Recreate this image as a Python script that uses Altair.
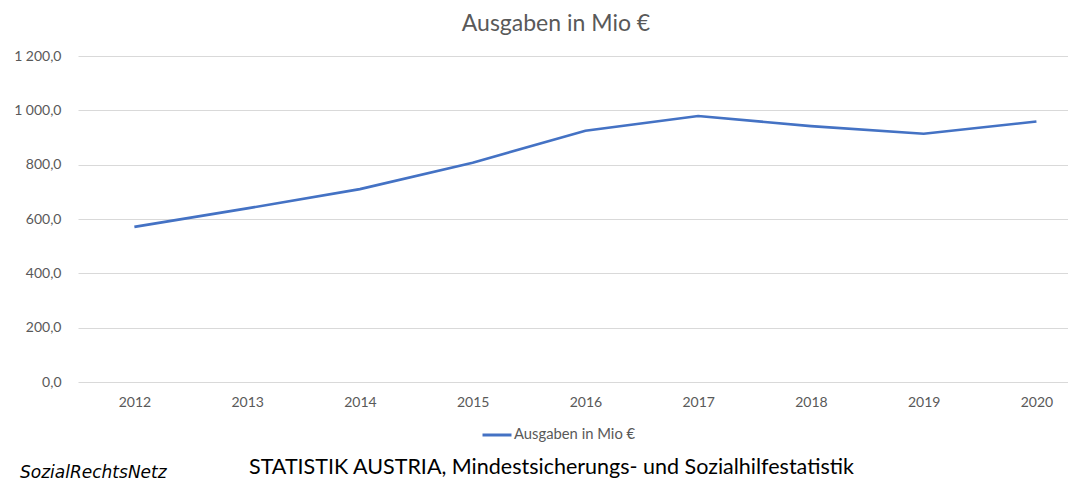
import altair as alt
import pandas as pd

years = [2012, 2013, 2014, 2015, 2016, 2017, 2018, 2019, 2020]
ausgaben = [571, 639, 710, 807, 925, 979, 942, 914, 959]
series_name = "Ausgaben in Mio €"
title_text = "Ausgaben in Mio €"
caption = ["STATISTIK AUSTRIA, Mindestsicherungs- und Sozialhilfestatistik"]
logo = ["SozialRechtsNetz"]
y_ticks = [0, 200, 400, 600, 800, 1000, 1200]

FONT = "Lato"
GRAY = "#595959"
BLUE = "#4472C4"

df = pd.DataFrame({"Jahr": years, "Wert": ausgaben, "Serie": series_name})

line = alt.Chart(df).mark_line(strokeWidth=2.6, color=BLUE).encode(
    x=alt.X("Jahr:Q",
            scale=alt.Scale(domain=[2011.5, 2020.28], nice=False, zero=False),
            axis=alt.Axis(values=years, format="d", grid=False, domain=False,
                          ticks=False, labelPadding=13, labelFontSize=14,
                          labelColor=GRAY, labelFont=FONT, title=None)),
    y=alt.Y("Wert:Q",
            scale=alt.Scale(domain=[0, 1200], nice=False),
            axis=alt.Axis(values=y_ticks, grid=True, gridColor="#d9d9d9",
                          gridWidth=1, domain=False, ticks=False,
                          labelPadding=17, labelFontSize=14, labelColor=GRAY,
                          labelFont=FONT, title=None, minExtent=70, maxExtent=70,
                          labelExpr="replace(replace(format(datum.value, ',.1f'), ',', ' '), '.', ',')")),
    color=alt.Color("Serie:N",
                    scale=alt.Scale(range=[BLUE]),
                    legend=alt.Legend(title=None, orient="none", legendX=403,
                                      legendY=363, symbolType="stroke",
                                      symbolSize=841, symbolStrokeWidth=3,
                                      labelFont=FONT, labelFontSize=14.8,
                                      labelColor=GRAY, labelOffset=1)),
)

cap = alt.Chart(pd.DataFrame({"t": caption})).mark_text(
    align="left", baseline="alphabetic", font=FONT, fontSize=21.5, color="#000000"
).encode(text="t:N", x=alt.value(171), y=alt.value(418))

logo_txt = alt.Chart(pd.DataFrame({"t": logo})).mark_text(
    align="left", baseline="alphabetic", font="DejaVu Sans", fontStyle="italic",
    fontSize=17, color="#000000"
).encode(text="t:N", x=alt.value(-58), y=alt.value(422))

chart = alt.layer(line, cap, logo_txt).properties(
    width=990, height=326,
    title=alt.TitleParams(title_text, font=FONT, fontSize=23, color=GRAY,
                          fontWeight="normal", anchor="middle", frame="group",
                          dx=-17, offset=13),
    padding={"top": 5, "left": 0, "right": 0, "bottom": 0},
).configure_view(stroke=None)

chart.save("out.html", embed_options={"renderer": "svg", "actions": False})
